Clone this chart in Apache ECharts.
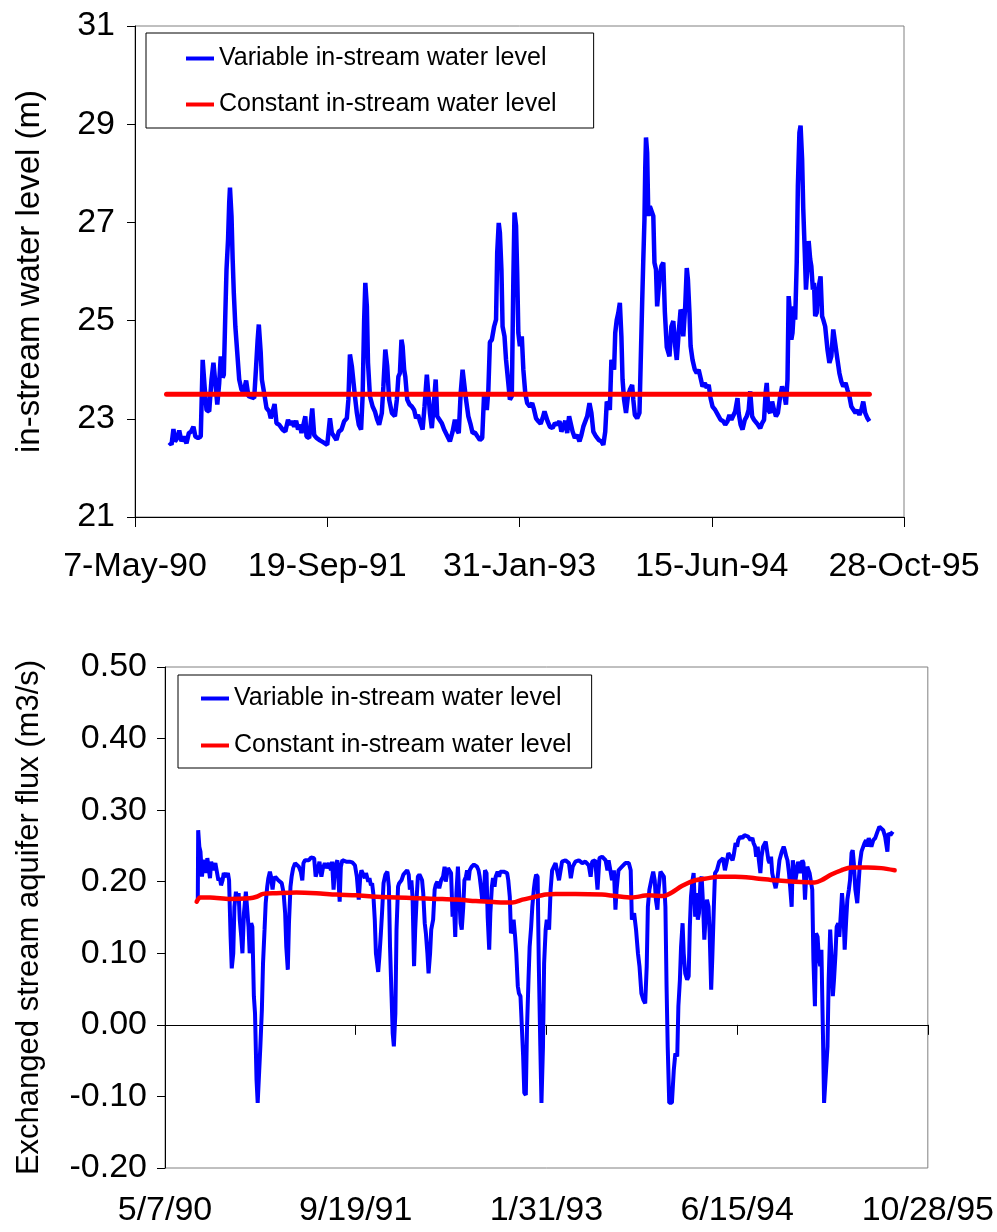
<!DOCTYPE html>
<html><head><meta charset="utf-8">
<script src="https://cdn.jsdelivr.net/npm/echarts@6/dist/echarts.min.js"></script>
<style>html,body{margin:0;padding:0;background:#fff}#c{width:997px;height:1232px}</style>
</head><body><div id="c"></div><script>
// x values are Excel date serials (33000 = 7-May-1990)
const xTicks = [33000, 33500, 34000, 34500, 35000];
const topTickLabels = ['7-May-90', '19-Sep-91', '31-Jan-93', '15-Jun-94', '28-Oct-95'];
const bottomTickLabels = ['5/7/90', '9/19/91', '1/31/93', '6/15/94', '10/28/95'];
const seriesNames = ['Variable in-stream water level', 'Constant in-stream water level'];

const variableLevel = [[33089,22.52],[33095,22.47],[33100,22.79],[33104,22.54],[33110,22.61],[33115,22.76],[33121,22.54],[33127,22.64],[33134,22.50],[33140,22.71],[33146,22.74],[33152,22.84],[33157,22.64],[33164,22.61],[33171,22.64],[33176,24.20],[33181,23.66],[33186,23.18],[33193,23.15],[33199,23.80],[33204,24.14],[33209,23.73],[33214,23.29],[33219,23.73],[33223,24.27],[33228,23.84],[33231,23.90],[33235,25.16],[33238,26.04],[33242,26.65],[33245,27.40],[33247,27.71],[33251,27.13],[33254,26.25],[33257,25.56],[33261,24.88],[33266,24.34],[33271,23.80],[33277,23.59],[33283,23.56],[33289,23.78],[33295,23.46],[33299,23.42],[33310,23.42],[33315,24.07],[33319,24.61],[33322,24.92],[33327,24.34],[33330,23.80],[33336,23.52],[33342,23.22],[33349,23.15],[33353,23.01],[33358,23.15],[33363,23.30],[33368,22.91],[33375,22.88],[33384,22.78],[33391,22.74],[33398,22.98],[33403,22.88],[33408,22.95],[33414,22.84],[33419,22.96],[33424,22.78],[33429,22.88],[33433,22.71],[33438,22.88],[33443,23.05],[33446,22.64],[33453,22.61],[33461,23.21],[33466,22.67],[33472,22.61],[33481,22.56],[33490,22.52],[33500,22.47],[33507,23.01],[33512,22.71],[33518,22.64],[33524,22.57],[33530,22.74],[33537,22.78],[33544,22.95],[33551,23.01],[33555,23.39],[33559,24.31],[33564,24.07],[33568,24.10],[33572,23.46],[33577,23.12],[33582,22.88],[33588,22.78],[33592,23.46],[33596,25.02],[33599,25.77],[33603,25.29],[33606,24.14],[33611,23.46],[33618,23.25],[33624,23.15],[33630,22.98],[33635,22.88],[33642,23.12],[33646,23.66],[33651,24.41],[33656,24.07],[33661,23.39],[33668,23.12],[33676,23.05],[33681,23.39],[33685,23.86],[33689,23.93],[33693,24.61],[33696,24.48],[33700,24.00],[33703,23.86],[33708,23.39],[33714,23.29],[33720,23.25],[33726,23.18],[33731,23.01],[33736,23.08],[33741,22.95],[33748,22.78],[33753,23.25],[33759,23.90],[33764,23.93],[33767,23.12],[33772,22.81],[33778,23.39],[33782,23.80],[33786,23.05],[33792,22.98],[33798,22.91],[33804,22.78],[33811,22.67],[33819,22.54],[33826,22.74],[33832,22.98],[33837,22.78],[33842,22.71],[33847,23.52],[33852,24.00],[33856,24.03],[33861,23.39],[33867,23.05],[33873,22.88],[33878,22.71],[33884,22.72],[33890,22.65],[33897,22.57],[33903,22.61],[33908,23.52],[33911,23.39],[33915,23.18],[33919,23.59],[33923,24.56],[33928,24.61],[33934,24.88],[33939,25.02],[33942,26.38],[33946,26.99],[33949,26.79],[33953,26.04],[33956,24.88],[33961,24.68],[33965,24.20],[33970,23.80],[33975,23.39],[33980,23.46],[33984,25.84],[33987,27.20],[33991,26.93],[33994,25.97],[33997,24.75],[34001,24.48],[34006,24.68],[34010,24.00],[34015,23.52],[34020,23.32],[34027,23.25],
[34033,23.32],[34038,23.18],[34043,23.01],[34049,22.95],[34055,22.90],[34060,23.01],[34065,23.15],[34069,23.12],[34073,22.95],[34079,22.84],[34086,22.81],[34092,22.91],[34098,22.88],[34104,22.95],[34109,22.74],[34114,22.84],[34119,22.96],[34124,22.71],[34129,23.05],[34133,23.08],[34138,22.74],[34144,22.61],[34150,22.67],[34156,22.54],[34161,22.67],[34166,22.84],[34171,22.84],[34176,23.05],[34182,23.32],[34187,23.12],[34192,22.74],[34199,22.64],[34206,22.57],[34213,22.54],[34218,22.47],[34223,22.74],[34227,23.35],[34232,23.29],[34235,23.18],[34239,24.20],[34242,24.24],[34246,24.00],[34249,24.75],[34253,25.02],[34257,25.16],[34261,25.36],[34265,24.68],[34268,23.80],[34272,23.39],[34277,23.12],[34282,23.46],[34287,23.59],[34293,23.69],[34296,23.39],[34300,23.08],[34306,23.01],[34312,23.12],[34315,24.07],[34319,25.36],[34322,26.25],[34325,27.06],[34327,28.08],[34329,28.73],[34332,28.42],[34335,27.13],[34339,27.33],[34344,27.33],[34348,27.13],[34351,26.18],[34355,26.04],[34358,25.29],[34364,25.84],[34369,26.11],[34374,26.18],[34378,25.18],[34383,24.46],[34390,24.27],[34395,24.88],[34400,24.99],[34405,24.48],[34409,24.20],[34414,24.75],[34419,25.22],[34423,25.16],[34426,24.68],[34431,25.29],[34435,26.07],[34438,25.84],[34442,25.16],[34445,24.48],[34450,24.20],[34456,24.00],[34461,23.93],[34466,24.00],[34471,23.83],[34476,23.66],[34482,23.73],[34487,23.63],[34492,23.69],[34497,23.42],[34502,23.25],[34509,23.18],[34516,23.08],[34523,22.98],[34530,22.95],[34535,22.88],[34541,22.95],[34546,23.08],[34551,22.98],[34556,22.95],[34561,23.15],[34567,23.42],[34570,23.12],[34575,22.88],[34580,22.78],[34586,22.98],[34591,23.05],[34596,23.18],[34600,23.56],[34605,23.05],[34610,22.98],[34615,22.95],[34620,22.88],[34626,22.81],[34631,22.91],[34636,22.98],[34640,23.52],[34643,23.73],[34647,23.18],[34652,23.12],[34657,23.35],[34662,23.18],[34667,23.05],[34672,23.12],[34678,23.46],[34683,23.66],[34688,23.52],[34693,23.29],[34697,23.80],[34700,25.50],[34704,25.09],[34707,24.61],[34710,24.75],[34714,25.29],[34717,25.02],[34721,26.18],[34724,27.74],[34728,28.83],[34731,28.97],[34735,28.29],[34738,27.27],[34742,26.38],[34745,25.63],[34749,26.11],[34752,26.62],[34756,26.25],[34759,26.11],[34763,25.63],[34766,25.77],[34769,25.09],[34773,25.16],[34776,25.56],[34780,25.77],[34783,25.90],[34787,25.09],[34790,25.02],[34795,24.88],[34801,24.41],[34806,24.14],[34811,24.27],[34816,24.82],[34821,24.85],[34827,24.20],[34832,23.93],[34837,23.76],[34842,23.66],[34848,23.73],[34853,23.59],[34858,23.46],[34863,23.25],[34868,23.22],[34874,23.12],[34879,23.18],[34884,23.08],[34889,23.18],[34894,23.35],[34899,23.12],[34905,23.01],[34910,22.95]];

const constantLevel = [[33082,23.5],[34910,23.5]];

const variableFlux = [[33086,0.175],[33087,0.272],[33090,0.249],[33093,0.242],[33097,0.207],[33100,0.226],[33104,0.230],[33107,0.212],[33111,0.233],[33114,0.221],[33118,0.205],[33121,0.228],[33126,0.216],[33132,0.226],[33137,0.226],[33140,0.202],[33144,0.205],[33147,0.195],[33151,0.202],[33154,0.212],[33158,0.214],[33161,0.207],[33165,0.212],[33168,0.202],[33172,0.123],[33175,0.079],[33179,0.100],[33182,0.165],[33186,0.186],[33189,0.175],[33193,0.184],[33196,0.147],[33200,0.123],[33203,0.100],[33207,0.156],[33212,0.186],[33215,0.165],[33219,0.137],[33222,0.100],[33226,0.142],[33229,0.137],[33233,0.040],[33236,0.016],[33240,-0.077],[33243,-0.109],[33247,-0.109],[33250,-0.030],[33254,0.021],[33257,0.086],[33261,0.133],[33264,0.170],[33268,0.193],[33271,0.205],[33275,0.214],[33278,0.207],[33282,0.189],[33285,0.202],[33289,0.207],[33292,0.207],[33297,0.202],[33301,0.200],[33306,0.198],[33311,0.184],[33315,0.156],[33318,0.109],[33322,0.077],[33325,0.142],[33329,0.193],[33332,0.207],[33336,0.219],[33341,0.226],[33346,0.227],[33351,0.221],[33356,0.214],[33360,0.202],[33363,0.226],[33367,0.230],[33372,0.232],[33377,0.230],[33383,0.234],[33388,0.235],[33391,0.233],[33395,0.207],[33400,0.216],[33405,0.228],[33410,0.207],[33414,0.219],[33419,0.226],[33424,0.219],[33430,0.226],[33435,0.216],[33438,0.228],[33442,0.189],[33445,0.214],[33449,0.226],[33452,0.230],[33458,0.172],[33461,0.221],[33465,0.230],[33468,0.231],[33475,0.228],[33484,0.228],[33491,0.227],[33498,0.223],[33503,0.207],[33508,0.175],[33512,0.207],[33515,0.216],[33519,0.214],[33524,0.205],[33527,0.212],[33533,0.200],[33536,0.205],[33540,0.195],[33543,0.198],[33546,0.184],[33550,0.147],[33553,0.100],[33559,0.074],[33562,0.095],[33566,0.128],[33569,0.156],[33573,0.198],[33578,0.210],[33583,0.214],[33587,0.193],[33590,0.109],[33594,0.040],[33597,-0.012],[33600,-0.030],[33604,0.016],[33607,0.133],[33611,0.193],[33614,0.198],[33620,0.202],[33625,0.210],[33630,0.213],[33635,0.216],[33639,0.210],[33642,0.189],[33646,0.202],[33649,0.179],[33653,0.082],[33656,0.133],[33660,0.179],[33663,0.207],[33667,0.210],[33670,0.207],[33674,0.202],[33677,0.184],[33681,0.142],[33684,0.128],[33688,0.100],[33691,0.072],[33695,0.100],[33698,0.133],[33703,0.147],[33707,0.189],[33710,0.196],[33714,0.200],[33719,0.191],[33724,0.202],[33729,0.207],[33733,0.221],[33736,0.200],[33742,0.219],[33747,0.221],[33750,0.212],[33754,0.151],[33757,0.175],[33761,0.123],[33764,0.184],[33768,0.221],[33771,0.184],[33775,0.142],[33778,0.133],[33782,0.165],[33785,0.202],[33789,0.207],[33792,0.216],[33796,0.202],[33799,0.216],[33804,0.221],[33810,0.224],[33815,0.226],[33818,0.221],[33822,0.216],[33825,0.207],[33829,0.189],[33832,0.172],[33836,0.175],[33839,0.216],[33843,0.212],[33846,0.151],[33850,0.105],[33853,0.156],[33857,0.193],[33860,0.205],[33864,0.193],[33867,0.207],[33872,0.214],[33876,0.207],[33879,0.214],[33883,0.216],[33888,0.214],[33893,0.216],[33897,0.212],[33900,0.202],[33904,0.179],[33907,0.128],[33911,0.133],[33914,0.147],[33918,0.123],[33921,0.100],[33925,0.054],[33928,0.044],[33932,0.040],[33935,0.040],[33939,-0.044],[33942,-0.095],[33946,-0.098],[33949,-0.007],[33953,0.063],[33956,0.109],[33960,0.137],[33963,0.165],[33967,0.189],[33970,0.202],[33973,0.210],[33977,0.207],[33980,0.086],[33984,-0.030],[33987,-0.109],[33991,-0.030],[33994,0.086],[33998,0.133],[34001,0.147],
[34007,0.133],[34011,0.189],[34015,0.216],[34024,0.226],[34033,0.202],[34041,0.228],[34050,0.230],[34059,0.226],[34064,0.205],[34069,0.221],[34076,0.228],[34085,0.230],[34094,0.226],[34102,0.228],[34111,0.223],[34116,0.207],[34120,0.228],[34128,0.230],[34134,0.189],[34139,0.233],[34146,0.235],[34155,0.230],[34160,0.216],[34163,0.230],[34169,0.212],[34172,0.202],[34177,0.216],[34181,0.161],[34184,0.189],[34189,0.216],[34198,0.221],[34207,0.226],[34216,0.226],[34221,0.216],[34224,0.147],[34230,0.156],[34235,0.133],[34240,0.100],[34244,0.082],[34249,0.044],[34254,0.035],[34259,0.030],[34263,0.082],[34266,0.165],[34270,0.189],[34275,0.202],[34280,0.214],[34284,0.202],[34287,0.175],[34291,0.161],[34294,0.189],[34299,0.214],[34303,0.216],[34308,0.207],[34312,0.165],[34315,0.054],[34318,-0.030],[34322,-0.109],[34329,-0.109],[34334,-0.063],[34338,-0.040],[34343,-0.044],[34346,0.026],[34350,0.063],[34353,0.109],[34357,0.142],[34360,0.100],[34364,0.072],[34369,0.063],[34373,0.068],[34376,0.137],[34379,0.179],[34383,0.202],[34386,0.212],[34390,0.151],[34393,0.184],[34397,0.147],[34400,0.156],[34404,0.202],[34407,0.207],[34411,0.165],[34414,0.119],[34418,0.156],[34421,0.175],[34425,0.165],[34428,0.128],[34432,0.049],[34435,0.095],[34439,0.165],[34442,0.212],[34447,0.216],[34453,0.228],[34458,0.230],[34463,0.233],[34468,0.216],[34472,0.226],[34477,0.240],[34482,0.242],[34488,0.230],[34491,0.237],[34496,0.254],[34500,0.249],[34503,0.258],[34508,0.263],[34514,0.261],[34519,0.265],[34524,0.265],[34529,0.263],[34535,0.258],[34540,0.261],[34543,0.254],[34547,0.249],[34550,0.235],[34554,0.249],[34557,0.230],[34561,0.212],[34564,0.235],[34568,0.249],[34571,0.251],[34575,0.256],[34578,0.256],[34582,0.230],[34585,0.226],[34589,0.235],[34592,0.212],[34596,0.202],[34601,0.191],[34606,0.205],[34611,0.230],[34617,0.242],[34622,0.249],[34625,0.244],[34629,0.235],[34632,0.230],[34636,0.212],[34639,0.193],[34643,0.165],[34646,0.230],[34650,0.216],[34653,0.202],[34657,0.216],[34660,0.228],[34665,0.212],[34671,0.230],[34674,0.226],[34678,0.175],[34681,0.207],[34684,0.221],[34690,0.212],[34693,0.202],[34697,0.189],[34700,0.091],[34704,0.026],[34707,0.128],[34711,0.123],[34714,0.095],[34718,0.082],[34721,0.105],[34725,-0.012],[34728,-0.109],[34733,-0.109],[34737,-0.030],[34740,0.063],[34744,0.133],[34747,0.100],[34751,0.040],[34754,0.063],[34758,0.100],[34761,0.137],[34765,0.142],[34768,0.123],[34772,0.156],[34775,0.184],[34779,0.156],[34782,0.105],[34786,0.147],[34789,0.175],[34793,0.189],[34796,0.202],[34800,0.240],[34803,0.244],[34806,0.226],[34810,0.189],[34815,0.170],[34819,0.202],[34822,0.226],[34826,0.242],[34829,0.244],[34834,0.254],[34838,0.258],[34841,0.249],[34845,0.261],[34848,0.256],[34852,0.249],[34857,0.258],[34862,0.261],[34868,0.270],[34873,0.277],[34878,0.277],[34883,0.272],[34888,0.263],[34894,0.242],[34897,0.268],[34902,0.265],[34908,0.270]];

const constantFlux = [[33083,0.172],[33092,0.178],[33118,0.178],[33170,0.176],[33222,0.177],[33240,0.179],[33257,0.183],[33292,0.184],[33344,0.185],[33397,0.184],[33449,0.182],[33501,0.181],[33553,0.179],[33606,0.178],[33658,0.177],[33710,0.176],[33763,0.175],[33815,0.173],[33850,0.172],[33885,0.171],[33911,0.171],[33937,0.175],[33963,0.178],[33998,0.182],[34024,0.183],[34076,0.183],[34146,0.182],[34181,0.180],[34224,0.178],[34268,0.181],[34307,0.180],[34329,0.185],[34355,0.194],[34390,0.202],[34425,0.205],[34451,0.207],[34495,0.207],[34547,0.205],[34599,0.202],[34651,0.200],[34704,0.199],[34721,0.202],[34747,0.210],[34773,0.216],[34800,0.220],[34843,0.220],[34878,0.219],[34913,0.216]];

const FONT = "'Liberation Sans', Arial, sans-serif";
const BLUE = '#0000ff', RED = '#ff0000';
const tickFmt = labels => v => { const i = xTicks.indexOf(Math.round(v)); return i >= 0 ? labels[i] : ''; };

const chart = echarts.init(document.getElementById('c'), null, {renderer: 'canvas'});
const axisText = {color: '#000', fontFamily: FONT, fontSize: 34};
chart.setOption({
  animation: false,
  backgroundColor: '#fff',
  grid: [
    {left: 135, top: 26, width: 769, height: 491, show: true, borderColor: '#808080', borderWidth: 1, backgroundColor: 'transparent'},
    {left: 165, top: 667, width: 765, height: 501, show: true, borderColor: '#808080', borderWidth: 1, backgroundColor: 'transparent'}
  ],
  legend: [
    {left: 146, top: 33, orient: 'vertical', icon: 'rect', itemWidth: 28, itemHeight: 4, itemGap: 21,
     padding: [13, 37, 11, 40], borderColor: '#000', borderWidth: 1, selectedMode: false,
     textStyle: {color: '#000', fontFamily: FONT, fontSize: 25}, data: seriesNames},
    {left: 178, top: 675, orient: 'vertical', icon: 'rect', itemWidth: 28, itemHeight: 4, itemGap: 22,
     padding: [11, 20, 10, 23], borderColor: '#000', borderWidth: 1, selectedMode: false,
     textStyle: {color: '#000', fontFamily: FONT, fontSize: 25}, data: seriesNames}
  ],
  xAxis: [
    {gridIndex: 0, type: 'value', min: 33000, max: 35000, interval: 500,
     axisLine: {show: true, lineStyle: {color: '#000', width: 1}},
     axisTick: {show: true, length: 10, lineStyle: {color: '#000'}},
     axisLabel: Object.assign({margin: 33, formatter: tickFmt(topTickLabels)}, axisText),
     splitLine: {show: false}},
    {gridIndex: 1, type: 'value', min: 33000, max: 35000, interval: 500,
     axisLine: {show: true, onZero: true, lineStyle: {color: '#000', width: 1}},
     axisTick: {show: true, length: 10, lineStyle: {color: '#000'}},
     axisLabel: {show: false}, splitLine: {show: false}},
    {gridIndex: 1, type: 'value', position: 'bottom', min: 33000, max: 35000, interval: 500,
     axisLine: {show: false, onZero: false}, axisTick: {show: false},
     axisLabel: Object.assign({margin: 26, formatter: tickFmt(bottomTickLabels)}, axisText),
     splitLine: {show: false}}
  ],
  yAxis: [
    {gridIndex: 0, type: 'value', min: 21, max: 31, interval: 2,
     name: 'in-stream water level (m)', nameLocation: 'middle', nameGap: 89,
     nameTextStyle: {color: '#000', fontFamily: FONT, fontSize: 33},
     axisLine: {show: true, lineStyle: {color: '#000', width: 1}},
     axisTick: {show: true, length: 8, lineStyle: {color: '#000'}},
     axisLabel: Object.assign({margin: 20}, axisText), splitLine: {show: false}},
    {gridIndex: 1, type: 'value', min: -0.2, max: 0.5, interval: 0.1,
     name: 'Exchanged stream aquifer flux (m3/s)', nameLocation: 'middle', nameGap: 120,
     nameTextStyle: {color: '#000', fontFamily: FONT, fontSize: 31},
     axisLine: {show: true, onZero: false, lineStyle: {color: '#000', width: 1}},
     axisTick: {show: true, length: 8, lineStyle: {color: '#000'}},
     axisLabel: Object.assign({margin: 18, formatter: v => v.toFixed(2)}, axisText), splitLine: {show: false}}
  ],
  series: [
    {name: seriesNames[0], type: 'line', xAxisIndex: 0, yAxisIndex: 0, data: variableLevel,
     showSymbol: false, symbol: 'none', color: BLUE, lineStyle: {color: BLUE, width: 4.5}, z: 3},
    {name: seriesNames[1], type: 'line', xAxisIndex: 0, yAxisIndex: 0, data: constantLevel,
     showSymbol: false, symbol: 'none', color: RED, lineStyle: {color: RED, width: 5, cap: 'round'}, z: 4},
    {name: seriesNames[0], type: 'line', xAxisIndex: 1, yAxisIndex: 1, data: variableFlux,
     showSymbol: false, symbol: 'none', color: BLUE, lineStyle: {color: BLUE, width: 4}, z: 3},
    {name: seriesNames[1], type: 'line', xAxisIndex: 1, yAxisIndex: 1, data: constantFlux,
     showSymbol: false, symbol: 'none', smooth: 0.3, color: RED, lineStyle: {color: RED, width: 4.5, cap: 'round'}, z: 4}
  ]
});
</script></body></html>
